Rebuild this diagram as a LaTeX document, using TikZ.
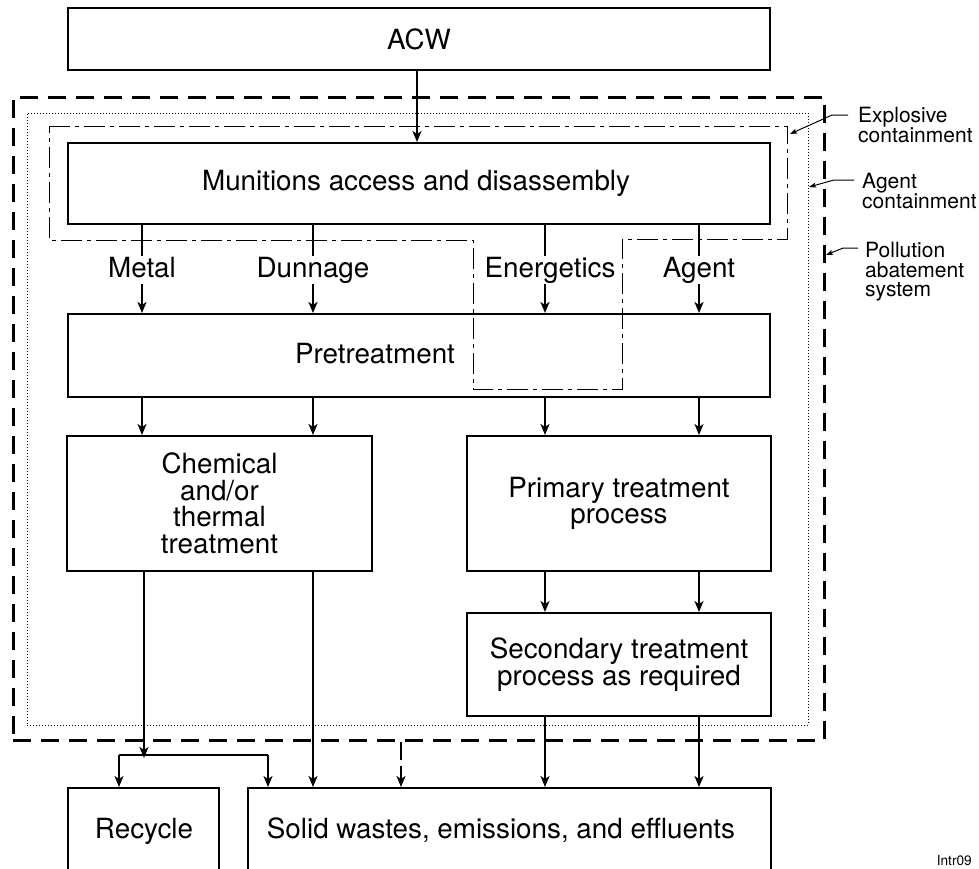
\documentclass[tikz,border=0pt]{standalone}
\usepackage{fontspec}
\setmainfont{TeX Gyre Heros}
\usetikzlibrary{arrows.meta}
\begin{document}
\begin{tikzpicture}[x=1pt,y=-1pt,
  box/.style={draw,line width=2pt,inner sep=0pt,align=center,
    font=\fontsize{27.8}{26.5}\selectfont},
  txt/.style={inner sep=0pt,align=center,font=\fontsize{27.8}{26.5}\selectfont},
  stream/.style={inner sep=0pt,anchor=north,text height=21pt,text depth=7pt,
    font=\fontsize{27.8}{26.5}\selectfont},
  wire/.style={line width=2pt},
  flow/.style={line width=2pt,-{Stealth[length=11pt,width=9pt,inset=3pt]}},
  note/.style={inner sep=0pt,anchor=north west,align=left,
    font=\fontsize{21}{19.5}\selectfont},
  leader/.style={line width=1pt,-{Stealth[length=7pt,width=5pt,inset=1.5pt]}},
  pollution/.style={line width=3pt,dash pattern=on 18pt off 10pt},
  agentline/.style={line width=1pt,dash pattern=on 1pt off 2pt},
  explosive/.style={line width=1pt,dash pattern=on 21pt off 5pt on 4pt off 5pt}
]
\path[use as bounding box] (0,0) rectangle (979,868);
\clip (0,0) rectangle (979,868);

% column positions of the flows
\coordinate (cACW) at (417,0);
\coordinate (cM) at (142,0);
\coordinate (cD) at (313,0);
\coordinate (cE) at (545,0);
\coordinate (cA) at (699,0);
\coordinate (cC) at (144,0);
\coordinate (cR) at (119,0);
\coordinate (cS) at (268,0);
\coordinate (cP) at (401,0);

% containment envelopes
\node[draw,pollution,minimum width=811pt,minimum height=643pt,inner sep=0pt] (pas) at (418.5,418.5) {};
\node[draw,agentline,minimum width=781pt,minimum height=612pt,inner sep=0pt] (agc) at (417.5,419) {};
\draw[explosive] (49,126) -- (787,126) -- (787,239) -- (622,239) -- (622,389)
  -- (473,389) -- (473,240) -- (49,240) -- cycle;

% process boxes
\node[box,minimum width=702pt,minimum height=62pt] (acw) at (419,39) {ACW};
\node[box,minimum width=702pt,minimum height=81pt] (mun) at (419,183.5) {};
\node[txt] (muntxt) at (416,183.5) {Munitions access and disassembly};
\node[box,minimum width=702pt,minimum height=83pt] (pre) at (419,355.5) {};
\node[txt] (pretxt) at (375,354) {Pretreatment};
\node[box,minimum width=305pt,minimum height=135pt] (chem) at (219.5,503.5)
  {Chemical\\and/or\\thermal\\treatment};
\node[box,minimum width=304pt,minimum height=135pt] (prim) at (619,503.5)
  {Primary treatment\\process};
\node[box,minimum width=304pt,minimum height=103pt] (sec) at (619,664.5)
  {Secondary treatment\\process as required};
\node[box,anchor=north,minimum width=151pt,minimum height=120pt] (rec) at (143.5,787) {};
\node[txt,anchor=base] (rectxt) at (144,838) {Recycle};
\node[box,anchor=north,minimum width=523pt,minimum height=120pt] (sol) at (509.5,787) {};
\node[txt,anchor=base] (soltxt) at (501,838) {Solid wastes, emissions, and effluents};

% stream labels
\node[stream] (metal) at (142,256) {Metal};
\node[stream] (dunn) at (313,256) {Dunnage};
\node[stream] (energ) at (550,256) {Energetics};
\node[stream] (agent) at (699,256) {Agent};

% flows
\draw[flow] (acw.south -| cACW) -- (mun.north -| cACW);
\foreach \s/\c in {metal/cM,dunn/cD,energ/cE,agent/cA}{
  \draw[wire] (mun.south -| \c) -- (\s.north -| \c);
  \draw[flow] (\s.south -| \c) -- (pre.north -| \c);
}
\draw[flow] (pre.south -| cM) -- (chem.north -| cM);
\draw[flow] (pre.south -| cD) -- (chem.north -| cD);
\draw[flow] (pre.south -| cE) -- (prim.north -| cE);
\draw[flow] (pre.south -| cA) -- (prim.north -| cA);
\draw[flow] (prim.south -| cE) -- (sec.north -| cE);
\draw[flow] (prim.south -| cA) -- (sec.north -| cA);
\draw[flow] (sec.south -| cE) -- (sol.north -| cE);
\draw[flow] (sec.south -| cA) -- (sol.north -| cA);
\draw[flow] (chem.south -| cD) -- (sol.north -| cD);

% recycle split
\coordinate (split) at (144,755);
\draw[flow] (chem.south -| cC) -- ([yshift=-3pt]split);
\draw[wire] (split -| cR) -- (split -| cS);
\draw[flow] (split -| cR) -- (rec.north -| cR);
\draw[flow] (split -| cS) -- (sol.north -| cS);

% pollution abatement discharge
\draw[line width=2.5pt,dash pattern=on 18pt off 6pt,-{Stealth[length=11pt,width=9pt,inset=3pt]}]
  (pas.south -| cP) -- (sol.north -| cP);

% envelope annotations
\node[note] (expl) at (858,107) {Explosive\\containment};
\node[note] (agnt) at (862,173) {Agent\\containment};
\node[note] (poll) at (865,242) {Pollution\\abatement\\system};
\coordinate (explTip) at (790,134);
\coordinate (agntTip) at (809,187);
\coordinate (pollTip) at (826,255);
\draw[leader] (848,115) -- (832,115) -- (explTip);
\draw[leader] (854,180) -- (834,180) -- (agntTip);
\draw[leader] (858,248) -- (843,248) -- (pollTip);

\node[inner sep=0pt,anchor=base east,font=\fontsize{13.7}{15}\selectfont] (tag) at (972,865) {Intr09};
\end{tikzpicture}
\end{document}
